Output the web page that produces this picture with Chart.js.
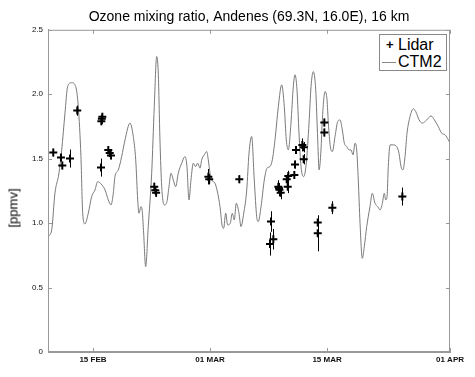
<!DOCTYPE html>
<html>
<head>
<meta charset="utf-8">
<script src="https://cdn.jsdelivr.net/npm/chart.js@4"></script>
<style>
  body { margin: 0; background: #fff; }
  #wrap { position: relative; width: 475px; height: 377px; }
  #ylab { position: absolute; left: 13px; top: 208px; transform: translate(-50%, -50%) rotate(-90deg);
          font: 13px "Liberation Sans", Arial, sans-serif; color: #000; white-space: nowrap; }
  #leg { position: absolute; left: 379px; top: 34px; width: 66px; height: 35px; border: 1px solid #888;
         background: #fff; font: 16px "Liberation Sans", Arial, sans-serif; color: #000; }
  #leg .row { position: absolute; left: 0; height: 18px; line-height: 18px; }
  #leg .txt { position: absolute; left: 18px; }
</style>
</head>
<body>
<div id="wrap">
  <canvas id="ozone" width="475" height="377"></canvas>
  <div id="ylab">[ppmv]</div>
  <div id="leg">
    <div class="row" style="top:1px"><span style="position:absolute;left:6px;font-weight:bold;font-size:13px">+</span><span class="txt">Lidar</span></div>
    <div class="row" style="top:18px"><span style="position:absolute;left:2px;top:9px;width:14px;border-top:1px solid #888"></span><span class="txt">CTM2</span></div>
  </div>
</div>
<script>
//========================================== Data (x = days after 01 FEB)

var ctmDay = [8.62, 9.06, 9.45, 9.93, 10.26, 10.65, 10.97, 11.45, 11.93, 12.24, 12.56, 12.77, 13.04, 13.44, 13.84,
    14.24, 14.56, 14.96, 15.44, 15.83, 16.15, 16.43, 16.63, 17.03, 17.43, 17.83, 18.43, 18.82, 19.11, 19.35,
    19.50, 19.74, 19.90, 20.06, 20.30, 20.61, 21.02, 21.33, 21.62, 21.81, 22.01, 22.22, 22.53, 22.85, 23.09,
    23.33, 23.61, 23.89, 24.20, 24.61, 25.00, 25.24, 25.48, 25.72, 26.00, 26.28, 26.52, 26.80, 27.00, 27.31,
    27.60, 27.79, 28.00, 28.20, 28.59, 28.92, 29.19, 29.47, 29.63, 29.87, 30.11, 30.42, 30.66, 30.90, 31.14,
    31.46, 31.70, 32.03, 32.39, 32.66, 32.98, 33.29, 33.58, 33.77, 34.10, 34.49, 34.81, 35.17, 35.45, 35.77,
    36.17, 36.57, 36.88, 37.12, 37.36, 37.68, 37.96, 38.16, 38.40, 38.64, 38.88, 39.20, 39.51, 39.84, 40.08,
    40.35, 40.64, 40.88, 41.04, 41.27, 41.43, 41.75, 41.99, 42.15, 42.39, 42.63, 42.95, 43.27, 43.55, 43.82,
    44.06, 44.35, 44.62, 44.86, 45.10, 45.34, 45.54, 45.73, 45.94, 46.21, 46.45, 46.74, 47.13, 47.41, 47.73,
    48.06, 48.33, 48.61, 48.84, 49.01, 49.17, 49.32, 49.53, 49.92, 50.33, 50.60, 50.84, 51.08, 51.32, 51.56,
    51.92, 52.31, 52.60, 53.00, 53.39, 53.92, 54.43, 54.83, 55.30, 55.71, 56.11, 56.50, 56.70];
var ctmVal = [0.895, 0.947, 1.232, 1.387, 1.568, 1.853, 2.06, 2.09, 2.06, 1.905, 1.516, 1.077, 0.994, 1.077, 1.206,
    1.258, 1.322, 1.304, 1.258, 1.18, 1.141, 1.232, 1.361, 1.413, 1.516, 1.646, 1.776, 1.672, 1.491, 1.18,
    1.077, 1.128, 1.089, 0.922, 0.662, 0.973, 1.387, 1.905, 2.293, 2.164, 1.646, 1.283, 1.141, 1.167, 1.283,
    1.387, 1.335, 1.283, 1.387, 1.465, 1.516, 1.439, 1.18, 1.335, 1.465, 1.439, 1.465, 1.426, 1.491, 1.53,
    1.555, 1.491, 1.387, 1.335, 1.31, 1.232, 1.128, 0.973, 0.96, 1.077, 0.986, 0.999, 1.077, 1.025, 1.154,
    1.077, 0.973, 1.077, 1.258, 1.542, 1.672, 1.335, 1.05, 1.012, 1.128, 1.335, 1.426, 1.439, 1.491, 1.646,
    1.905, 2.073, 1.905, 1.646, 1.568, 1.776, 2.06, 2.151, 2.034, 1.698, 1.439, 1.361, 1.465, 1.776, 2.06,
    2.176, 2.034, 1.646, 1.413, 1.568, 1.801, 2.021, 1.957, 1.776, 1.594, 1.555, 1.672, 1.788, 1.801, 1.724,
    1.62, 1.594, 1.568, 1.568, 1.53, 1.62, 1.568, 1.335, 0.999, 0.727, 0.818, 0.973, 1.128, 1.232, 1.154,
    1.128, 1.102, 1.154, 1.232, 1.18, 1.206, 1.439, 1.607, 1.607, 1.594, 1.542, 1.439, 1.413, 1.516, 1.698,
    1.827, 1.887, 1.866, 1.801, 1.776, 1.801, 1.832, 1.801, 1.749, 1.698, 1.685, 1.646, 1.62];

var lidarDay = [9.25, 10.17, 10.33, 11.25, 12.12, 15.00, 15.06, 15.12, 14.96, 15.83, 16.00, 16.15, 21.33, 21.45,
    21.55, 27.80, 27.90, 31.50, 35.29, 35.57, 35.17, 36.17, 36.30, 36.45, 36.25, 37.29, 37.17, 37.36, 38.08,
    38.16, 38.28, 39.04, 39.20, 39.20, 41.67, 41.67, 40.88, 40.88, 42.63, 51.00];
var lidarVal = [1.547, 1.509, 1.447, 1.501, 1.873, 1.79, 1.81, 1.825, 1.431, 1.568, 1.545, 1.525, 1.283, 1.255,
    1.235, 1.36, 1.34, 1.34, 1.012, 0.875, 0.838, 1.283, 1.258, 1.235, 1.27, 1.283, 1.341, 1.366, 1.374,
    1.454, 1.568, 1.607, 1.589, 1.496, 1.781, 1.703, 1.004, 0.921, 1.12, 1.206];
var lidarErr = [0.03, 0.03, 0.03, 0.07, 0.04, 0.03, 0.04, 0.03, 0.07, 0.03, 0.03, 0.03, 0.03, 0.03,
    0.03, 0.06, 0.04, 0.03, 0.08, 0.08, 0.09, 0.05, 0.05, 0.05, 0.04, 0.05, 0.04, 0.04, 0.03,
    0.03, 0.03, 0.05, 0.04, 0.04, 0.03, 0.03, 0.04, 0.14, 0.05, 0.07];

var tickDays = [14, 28, 42, 56.7];
var tickLabels = ['15 FEB', '01 MAR', '15 MAR', '01 APR'];

//========================================== Frame, inward ticks and error bars
var framePlugin = {
    id: 'frame',
    beforeDatasetsDraw: function(chart) {
        var c = chart.ctx, x = chart.scales.x, y = chart.scales.y;
        c.save();
        c.strokeStyle = '#000';
        c.lineWidth = 1;
        for (var i = 0; i < lidarDay.length; i++) {
            var px = Math.round(x.getPixelForValue(lidarDay[i])) + 0.5;
            c.beginPath();
            c.moveTo(px, y.getPixelForValue(lidarVal[i] - lidarErr[i]));
            c.lineTo(px, y.getPixelForValue(lidarVal[i] + lidarErr[i]));
            c.stroke();
        }
        c.restore();
    },
    afterDraw: function(chart) {
        var c = chart.ctx, a = chart.chartArea, x = chart.scales.x, y = chart.scales.y;
        c.save();
        c.strokeStyle = '#999';
        c.lineWidth = 1;
        c.strokeRect(a.left + 0.5, a.top + 0.5, a.right - a.left - 1, a.bottom - a.top - 1);
        c.beginPath();
        tickDays.forEach(function(d) {
            var px = Math.round(x.getPixelForValue(d)) + 0.5;
            c.moveTo(px, a.bottom); c.lineTo(px, a.bottom - 4);
            c.moveTo(px, a.top); c.lineTo(px, a.top + 4);
        });
        [0, 0.5, 1, 1.5, 2, 2.5].forEach(function(v) {
            var py = Math.round(y.getPixelForValue(v)) + 0.5;
            c.moveTo(a.left, py); c.lineTo(a.left + 4, py);
            c.moveTo(a.right, py); c.lineTo(a.right - 4, py);
        });
        c.stroke();
        c.restore();
    }
};

var ctx1 = document.getElementById('ozone');
var ozoneChart = new Chart(ctx1, {
    type: 'scatter',
    data: {
        datasets: [{
            label: 'Lidar',
            data: lidarDay.map(function(d, i) { return { x: d, y: lidarVal[i] }; }),
            pointStyle: 'cross',
            radius: 4,
            borderWidth: 2,
            borderColor: '#000',
            backgroundColor: '#000',
            showLine: false
        }, {
            label: 'CTM2',
            data: ctmDay.map(function(d, i) { return { x: d, y: ctmVal[i] }; }),
            showLine: true,
            borderColor: '#7a7a7a',
            borderWidth: 1,
            pointRadius: 0,
            cubicInterpolationMode: 'monotone'
        }]
    },
    options: {
        responsive: false,
        animation: false,
        devicePixelRatio: 1,
        layout: { padding: { left: 0, right: 25, top: 0, bottom: 0 } },
        plugins: {
            legend: { display: false },
            tooltip: { enabled: false },
            title: {
                display: true,
                fullSize: false,   // centre over the plot, not the canvas
                text: 'Ozone mixing ratio, Andenes (69.3N, 16.0E), 16 km',
                color: '#000',
                font: { family: 'Liberation Sans', size: 14, weight: 'normal' },
                padding: { top: 9, bottom: 4 }
            }
        },
        scales: {
            x: {
                type: 'linear',
                min: 8.62,
                max: 56.7,
                afterBuildTicks: function(s) { s.ticks = tickDays.map(function(v) { return { value: v }; }); },
                afterFit: function(s) { s.height = 25; },
                grid: { display: false, drawTicks: false },
                border: { color: '#999' },
                ticks: {
                    autoSkip: false,
                    maxRotation: 0,
                    padding: 3,
                    color: '#111',
                    font: { family: 'Liberation Sans', size: 8, weight: 'bold' },
                    callback: function(v, i) { return tickLabels[i]; }
                }
            },
            y: {
                min: 0,
                max: 2.5,
                afterFit: function(s) { s.width = 48; },
                grid: { display: false, drawTicks: false },
                border: { color: '#999' },
                ticks: {
                    stepSize: 0.5,
                    padding: 5,
                    color: '#111',
                    font: { family: 'Liberation Sans', size: 8 }
                }
            }
        }
    },
    plugins: [framePlugin]
});
</script>
</body>
</html>
